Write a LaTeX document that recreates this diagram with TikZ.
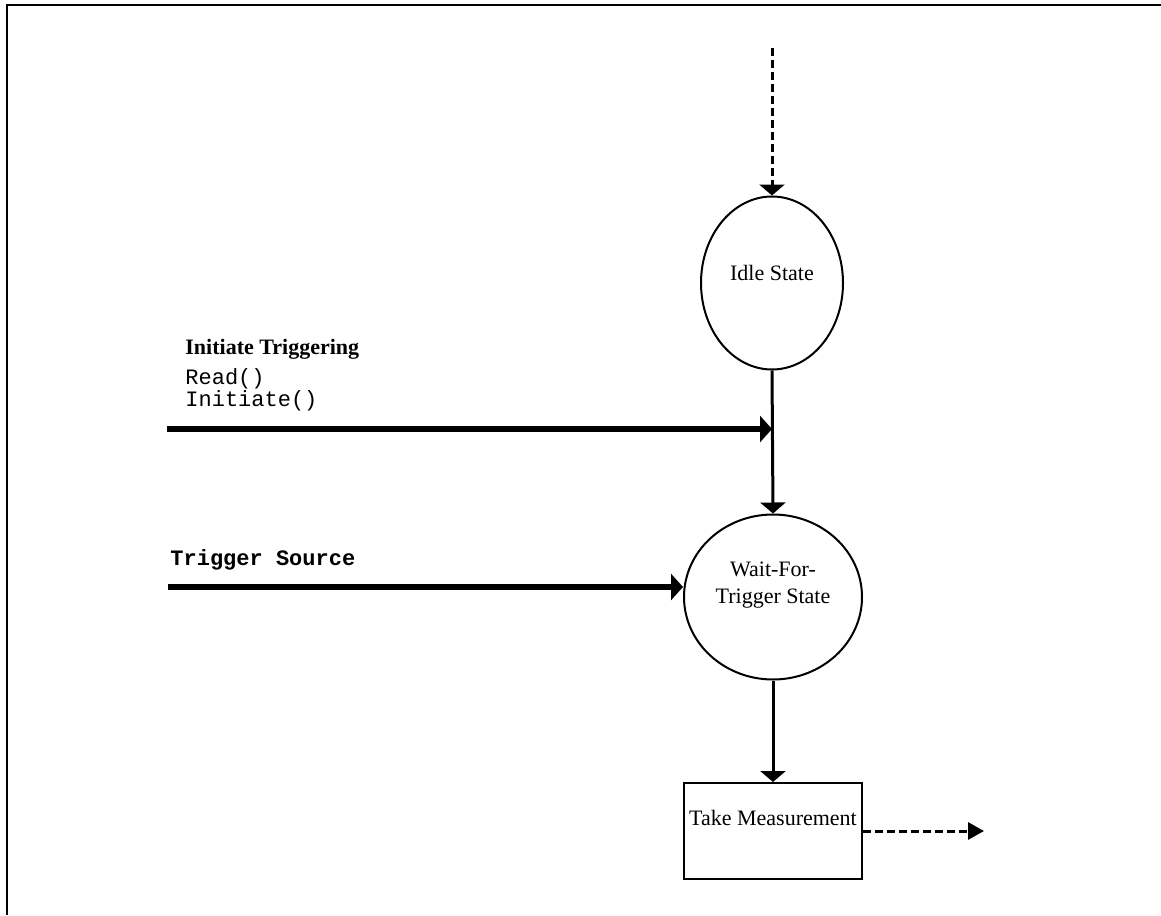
\documentclass[tikz,border=0pt]{standalone}
\usepackage{fontspec}
\setmainfont{Liberation Serif}
\setmonofont{Liberation Mono}
\usetikzlibrary{arrows.meta,shapes.geometric}
\tikzset{
	state/.style={draw, ellipse, line width=1pt, inner sep=0pt},
	flow/.style={line width=1.5pt, -{Triangle[length=5.5pt,width=12.5pt]}},
	event/.style={line width=3pt, -{Triangle[length=6pt,width=13pt]}},
	trail/.style={flow, dash pattern=on 4pt off 2pt}
}
\begin{document}
\begin{tikzpicture}[x=0.5pt, y=-0.5pt, font=\fontsize{11}{13.5}\selectfont]
			\useasboundingbox (0,0) rectangle (1161,915);
			\draw[line width=1pt] (7,915) -- (7,5) -- (1161,5);
			\path
			(772,48) coordinate (start)
			(167,429) coordinate (init)
			(168,587) coordinate (trig)
			(984,831) coordinate (out);
			\node[state, minimum width=71pt, minimum height=86.5pt, label={[yshift=5pt]center:Idle State}] (idle) at (772,283) {};
			\node[state, minimum width=89pt, minimum height=82.5pt, label={[align=center, yshift=6pt]center:Wait-For-\\Trigger State}] (wait) at (773,597) {};
			\node[draw, line width=1pt, minimum width=89pt, minimum height=48pt, label={[yshift=6.5pt]center:Take Measurement}] (meas) at (773,831) {};
			\node[anchor=north west, inner sep=0pt, align=left, font=\fontsize{11}{10}\selectfont] (initlbl) at (185,339) {\textbf{Initiate Triggering}\\[3.5pt]\texttt{Read()}\\\texttt{Initiate()}};
			\node[anchor=base west, inner sep=0pt, font=\fontsize{11}{13.5}\selectfont\ttfamily\bfseries] (triglbl) at (170,565) {Trigger Source};
			\draw[trail] (start) -- (idle.north);
			\draw[flow] (idle.south) -- (wait.north);
			\draw[event] (init) -- (init -| idle.south);
			\draw[event] (trig) -- (trig -| wait.west);
			\draw[flow] (wait.south) -- (meas.north);
			\draw[trail, -{Triangle[length=8pt,width=8.5pt]}] (meas.east) -- (out);
		\end{tikzpicture}
\end{document}
